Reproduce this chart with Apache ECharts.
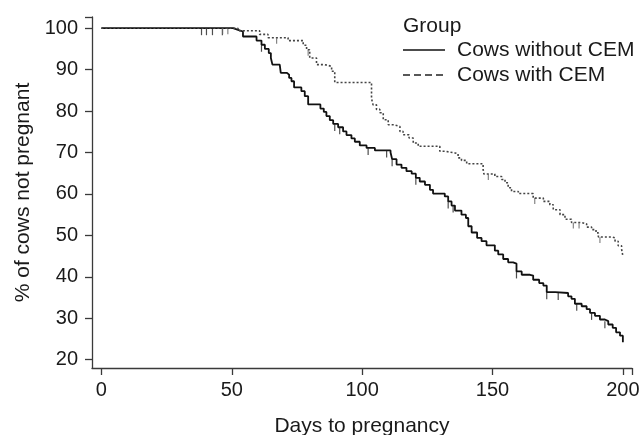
<!DOCTYPE html>
<html>
<head>
<meta charset="utf-8">
<script src="https://cdn.jsdelivr.net/npm/echarts@6/dist/echarts.min.js"></script>
<style>html,body{margin:0;padding:0;background:#fff}#c{width:642px;height:435px}</style>
</head>
<body>
<div id="c"></div>
<script>
// ---- data ----
const xTickLabels = [0, 50, 100, 150, 200];
const yTickLabels = [20, 30, 40, 50, 60, 70, 80, 90, 100];

const seriesNames = ['Cows without CEM', 'Cows with CEM'];

// Kaplan-Meier step points: day -> % not pregnant (value after the drop)
const noCemDays = [0, 50.5, 52.4, 54.3, 59.5, 61.4, 62.7, 64.2, 65.0, 65.6, 68.4, 68.8, 71.2, 72.0, 72.9, 73.9, 76.7, 78.0, 79.3, 84.0,
  85.3, 86.3, 87.6, 88.9, 90.8, 92.7, 94.0, 95.9, 97.2, 99.1, 101.7, 104.9, 110.9, 111.5, 113.2, 115.1, 117.0, 119.0, 120.6, 122.1,
  124.1, 126.0, 127.2, 131.7, 133.0, 134.3, 135.6, 138.1, 139.8, 140.7, 142.0, 144.1, 145.8, 147.7, 150.9, 152.2, 154.1, 156.0, 157.9, 159.2,
  161.2, 164.4, 165.6, 167.9, 169.5, 170.8, 174.0, 179.0, 180.3, 181.6, 184.2, 186.1, 187.4, 189.3, 191.2, 193.1, 194.4, 196.1, 197.4, 198.9,
  200.0];
const noCemPct = [100, 99.6, 99.2, 98.0, 97.0, 96.0, 95.0, 94.0, 92.8, 91.2, 90.8, 89.2, 88.8, 88.0, 87.2, 85.7, 84.8, 83.6, 81.6, 80.6,
  79.8, 78.8, 77.8, 76.9, 76.1, 75.1, 74.2, 73.4, 72.6, 71.7, 71.1, 70.5, 70.0, 68.4, 67.1, 66.3, 65.5, 64.9, 63.9, 63.0,
  62.2, 61.0, 60.1, 59.4, 58.2, 57.2, 56.0, 55.0, 54.2, 52.2, 50.7, 49.4, 48.6, 47.6, 46.3, 45.4, 44.3, 43.5, 43.2, 41.3,
  40.5, 40.3, 39.3, 38.5, 37.9, 36.3, 36.1, 35.3, 34.7, 33.5, 32.9, 32.2, 31.3, 30.6, 29.7, 29.3, 28.5, 27.7, 26.6, 25.8,
  24.2];

const cemDays = [0, 52.4, 60.7, 63.9, 71.6, 77.4, 78.7, 79.9, 82.5, 85.7, 88.3, 89.5, 103.6, 104.2, 105.5, 106.8, 108.1, 110.0, 111.9, 114.5,
  115.7, 118.0, 119.6, 121.5, 129.8, 131.7, 135.6, 136.8, 138.1, 140.1, 146.4, 146.7, 150.9, 153.5, 154.8, 156.0, 157.3, 159.9, 165.6, 169.5,
  172.0, 173.3, 175.9, 177.8, 180.3, 184.2, 186.1, 188.0, 189.7, 190.6, 195.7, 197.0, 198.2, 199.5, 200.0];
const cemPct = [100, 99.4, 98.5, 97.7, 97.0, 95.9, 94.8, 92.8, 91.2, 90.8, 89.6, 86.9, 83.0, 81.5, 80.4, 79.6, 77.9, 76.7, 76.3, 75.1,
  74.3, 73.5, 72.3, 71.5, 70.3, 69.9, 69.7, 68.7, 68.1, 67.3, 65.9, 64.8, 64.2, 63.5, 62.7, 61.5, 60.6, 60.1, 59.0, 58.2,
  57.4, 56.2, 55.0, 53.9, 53.1, 52.8, 52.0, 51.4, 50.6, 49.6, 49.4, 48.6, 47.5, 46.7, 45.0];

// censored observations (days)
const noCemCensored = [38.4, 40.3, 42.6, 46.4, 61.4, 89.5, 91.4, 102.3, 109.4, 111.5, 120.6, 133.0, 134.9, 159.2, 170.8, 175.2, 182.3, 188.0, 193.1];
const cemCensored = [46.5, 48.5, 67.2, 79.3, 148.4, 166.2, 181.0, 183.2, 191.2];

// ---- build ----
function zip(a, b) { return a.map((d, i) => [d, b[i]]); }
function stepLookup(days, pct, t) {
  let v = pct[0];
  for (let i = 0; i < days.length; i++) { if (days[i] <= t) v = pct[i]; else break; }
  return v;
}
function censorPts(cd, days, pct) { return cd.map(t => [t, stepLookup(days, pct, t)]); }

const FONT = '"Liberation Sans", Arial, Helvetica, sans-serif';
const TXT = '#1a1a1a';
const AXIS = '#3a3a3a';

const chart = echarts.init(document.getElementById('c'), null, { renderer: 'canvas' });
chart.setOption({
  animation: false,
  backgroundColor: '#fff',
  textStyle: { fontFamily: FONT },
  grid: { left: 92, right: 10, top: 17, bottom: 67, outerBoundsMode: 'none', containLabel: false },
  xAxis: {
    type: 'value', min: -3.6, max: 203.5,
    name: 'Days to pregnancy', nameLocation: 'middle', nameGap: 48,
    nameTextStyle: { fontSize: 21, color: TXT, fontFamily: FONT },
    axisLine: { show: true, onZero: false, lineStyle: { color: AXIS, width: 1.3 } },
    axisTick: { show: true, length: 7, lineStyle: { color: AXIS, width: 1.3 }, customValues: xTickLabels.concat([203.5]) },
    axisLabel: { fontSize: 20, color: TXT, margin: 12, fontFamily: FONT, customValues: xTickLabels },
    splitLine: { show: false }
  },
  yAxis: {
    type: 'value', min: 18, max: 102.7,
    name: '% of cows not pregnant', nameLocation: 'middle', nameGap: 58, nameRotate: 90,
    nameTextStyle: { fontSize: 21, color: TXT, fontFamily: FONT },
    axisLine: { show: true, onZero: false, lineStyle: { color: AXIS, width: 1.3 } },
    axisTick: { show: true, length: 7, lineStyle: { color: AXIS, width: 1.3 }, customValues: yTickLabels.concat([102.7]) },
    axisLabel: { fontSize: 20, color: TXT, margin: 14, fontFamily: FONT, customValues: yTickLabels },
    splitLine: { show: false }
  },
  series: [
    {
      name: seriesNames[0], type: 'line', step: 'end', showSymbol: false, symbol: 'none',
      data: zip(noCemDays, noCemPct),
      lineStyle: { color: '#111', width: 1.8 }
    },
    {
      name: seriesNames[1], type: 'line', step: 'end', showSymbol: false, symbol: 'none',
      data: zip(cemDays, cemPct),
      lineStyle: { color: '#444', width: 1.6, type: [2, 2] }
    },
    {
      name: seriesNames[0] + ' censored', type: 'scatter', symbol: 'rect', symbolSize: [1.2, 7], symbolOffset: [0, 3.5],
      data: censorPts(noCemCensored, noCemDays, noCemPct),
      itemStyle: { color: '#222' }, z: 3
    },
    {
      name: seriesNames[1] + ' censored', type: 'scatter', symbol: 'rect', symbolSize: [1.2, 6], symbolOffset: [0, 3],
      data: censorPts(cemCensored, cemDays, cemPct),
      itemStyle: { color: '#666' }, z: 3
    }
  ],
  graphic: [
    { type: 'text', left: 403, top: 16, style: { text: 'Group', font: '21px ' + FONT, fill: TXT } },
    { type: 'line', shape: { x1: 403, y1: 50, x2: 445, y2: 50 }, style: { stroke: '#111', lineWidth: 1.3 } },
    { type: 'text', left: 457, top: 40, style: { text: seriesNames[0], font: '21px ' + FONT, fill: TXT } },
    { type: 'line', shape: { x1: 403, y1: 75, x2: 445, y2: 75 }, style: { stroke: '#222', lineWidth: 1.3, lineDash: [7, 4] } },
    { type: 'text', left: 457, top: 65, style: { text: seriesNames[1], font: '21px ' + FONT, fill: TXT } }
  ]
});
</script>
</body>
</html>
